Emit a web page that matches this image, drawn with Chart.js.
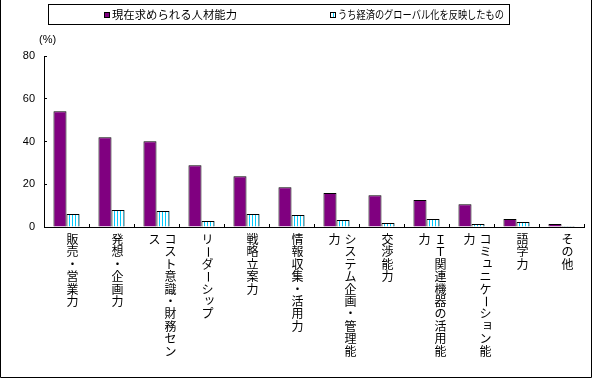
<!DOCTYPE html>
<html><head><meta charset="utf-8">
<script src="https://cdn.jsdelivr.net/npm/chart.js@4/dist/chart.umd.min.js"></script>
<style>html,body{margin:0;padding:0;background:#fff}#wrap{width:594px;height:379px;position:relative}</style>
</head><body><div id="wrap"><canvas id="c" width="594" height="379"></canvas></div>
<script>
const categories = ['販売・営業力','発想・企画力','コスト意識・財務センス','リーダーシップ','戦略立案力','情報収集・活用力','システム企画・管理能力','交渉能力','ＩＴ関連機器の活用能力','コミュニケーション能力','語学力','その他'];
const currentSkills = [54.1, 42.0, 40.1, 28.9, 23.8, 18.6, 15.9, 14.9, 12.6, 10.7, 3.7, 1.4];
const globalShare = [6.1, 7.9, 7.5, 2.8, 6.1, 5.6, 3.3, 1.9, 3.7, 1.4, 2.3, 0.5];
const seriesNames = ['現在求められる人材能力','うち経済のグローバル化を反映したもの'];
const yTicks = [0, 20, 40, 60, 80];
const unitLabel = '(%)';

function stripe(){
  const cv = document.createElement('canvas'); cv.width = 3; cv.height = 1;
  const x = cv.getContext('2d');
  x.fillStyle = '#fff'; x.fillRect(0,0,3,1);
  x.fillStyle = '#00CCFF'; x.fillRect(0,0,1,1);
  return x.createPattern(cv, 'repeat');
}
const stripePat = stripe();
const CJK = '"Noto Sans CJK JP", sans-serif';

const vertLabels = {id:'vertLabels', afterDraw(chart){
  const c = chart.ctx, xs = chart.scales.x;
  c.save(); c.fillStyle = '#000'; c.font = '12px ' + CJK; c.textAlign = 'center'; c.textBaseline = 'middle';
  categories.forEach((lab, i) => {
    const chars = [...lab]; const cols = [];
    for (let k = 0; k < chars.length; k += 10) cols.push(chars.slice(k, k + 10));
    const cx = xs.getPixelForValue(i) + 6;
    cols.forEach((col, j) => {
      const x = cx + (cols.length - 1) / 2 * 16 - j * 16;
      col.forEach((ch, r) => {
        const y = 239.5 + r * 12.4;
        if (ch === 'ー') { c.save(); c.translate(x, y); c.rotate(Math.PI / 2); c.fillText(ch, 0, 0); c.restore(); }
        else if ('ッュョャ'.includes(ch)) c.fillText(ch, x + 2, y - 2);
        else c.fillText(ch, x, y);
      });
    });
  });
  c.restore();
}};

const decor = {id:'decor', afterDraw(chart){
  const c = chart.ctx;
  c.save();
  c.strokeStyle = '#000'; c.lineWidth = 1;
  // outer frame
  c.beginPath(); c.moveTo(0.5, 0); c.lineTo(0.5, 377.5); c.lineTo(591.5, 377.5); c.lineTo(591.5, 0); c.stroke();
  // legend box
  c.strokeRect(48.5, 4.5, 461, 20);
  const ds = chart.data.datasets;
  const xs = [104, 330];
  const widths = [125, 166];
  c.font = '11.5px ' + CJK; c.textBaseline = 'middle'; c.textAlign = 'left';
  ds.forEach((d, i) => {
    c.fillStyle = d.backgroundColor; c.fillRect(xs[i], 12, 6, 6);
    c.strokeRect(xs[i] + 0.5, 12.5, 5, 5);
    c.fillStyle = '#000'; c.fillText(d.label, xs[i] + 8, 15, widths[i]);
  });
  // unit
  c.font = '11px "Liberation Sans", Arial, sans-serif'; c.fillStyle = '#000';
  c.fillText(unitLabel, 39, 40);
  c.restore();
}};

new Chart(document.getElementById('c'), {
  type: 'bar',
  data: {labels: categories, datasets: [
    {label: seriesNames[0], data: currentSkills, backgroundColor: '#800080', borderColor: '#000', borderWidth: 1, categoryPercentage: 0.58, barPercentage: 1},
    {label: seriesNames[1], data: globalShare, backgroundColor: stripePat, borderColor: '#000', borderWidth: 1, categoryPercentage: 0.58, barPercentage: 1}
  ]},
  options: {
    responsive: false, animation: false, devicePixelRatio: 1,
    layout: {padding: {left: 0, top: 56, right: 10, bottom: 152}},
    plugins: {legend: {display: false}, tooltip: {enabled: false}},
    scales: {
      x: {grid: {drawOnChartArea: false, tickLength: -3, color: '#000', offset: true},
          border: {color: '#000', width: 1}, ticks: {display: false},
          afterFit(s){ s.height = 0; }},
      y: {min: 0, max: 80,
          afterBuildTicks(s){ s.ticks = yTicks.map(v => ({value: v})); },
          grid: {drawOnChartArea: false, tickLength: -3, color: '#000'},
          border: {color: '#000', width: 1},
          ticks: {color: '#000', font: {family: '"Liberation Sans", Arial, sans-serif', size: 11}, padding: 12},
          afterFit(s){ s.width = 44; }}
    }
  },
  plugins: [vertLabels, decor]
});
</script></body></html>
